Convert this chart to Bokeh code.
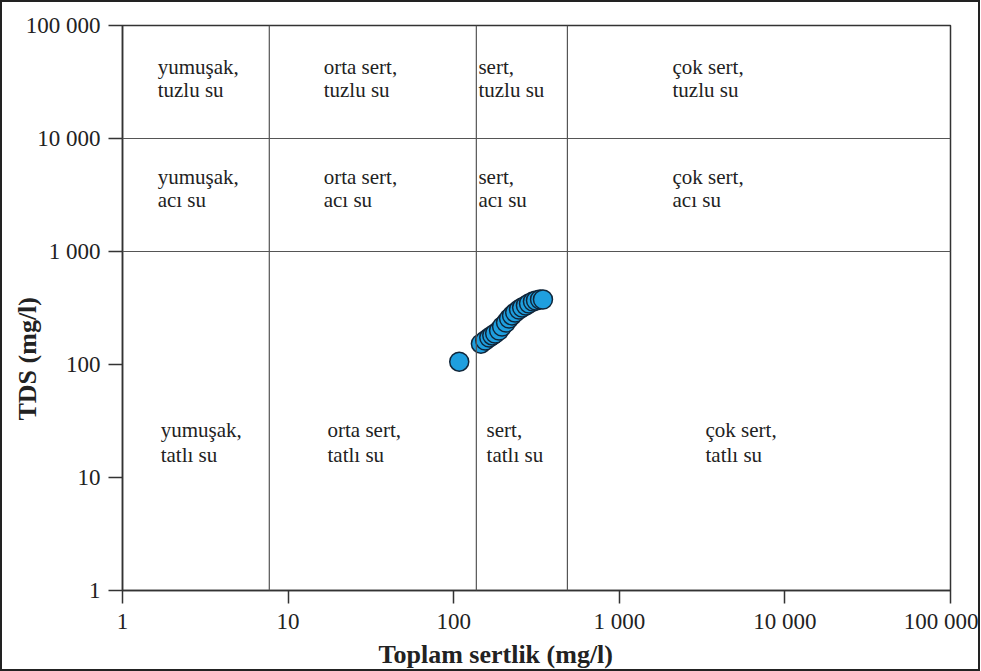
from bokeh.plotting import figure
from bokeh.models import FixedTicker, Span, Title, ColumnDataSource
from bokeh.embed import file_html
from bokeh.resources import INLINE
from bokeh.core.properties import value

# ---- data -------------------------------------------------------------
hardness = [108, 146, 155, 164, 171, 178, 188, 196, 207, 216, 225, 235,
            248, 259, 273, 285, 301, 314, 332, 346]
tds = [106, 153, 163, 173, 181, 188, 200, 217, 235, 255, 272, 288,
       307, 319, 333, 347, 361, 368, 376, 376]

tick_values = [1, 10, 100, 1000, 10000, 100000]
tick_labels = ["1", "10", "100", "1 000", "10 000", "100 000"]

hardness_bounds = [7.7, 137, 486]
tds_bounds = [1000, 10000]

hardness_classes = ["yumuşak,", "orta sert,", "sert,", "çok sert,"]
water_classes = ["tuzlu su", "acı su", "tatlı su"]

# label anchor positions (data units): column x per row, baselines per row
label_x_rows = [[1.63, 16.4, 141, 2096],
                [1.63, 16.4, 141, 2096],
                [1.70, 17.3, 158, 3315]]
label_y_rows = [(43300, 26600), (4600, 2830), (26.1, 15.7)]

x_title = "Toplam sertlik (mg/l)"
y_title = "TDS (mg/l)"

FONT = "Liberation Serif"
INK = "#222222"

p = figure(x_axis_type="log", y_axis_type="log",
           x_range=(1, 100000), y_range=(1, 100000),
           frame_width=828, frame_height=565,
           min_border_left=120, min_border_right=28,
           min_border_top=23, min_border_bottom=76,
           output_backend="svg", toolbar_location=None,
           background_fill_color="white", border_fill_color="white")
p.styles = {"border": "2px solid #222"}

p.grid.visible = False
p.outline_line_color = "#333333"
p.outline_line_width = 1.5

for ax in (p.xaxis[0], p.yaxis[0]):
    ax.ticker = FixedTicker(ticks=tick_values, minor_ticks=[])
    ax.major_label_overrides = {v: t for v, t in zip(tick_values, tick_labels)}
    ax.major_label_text_font = FONT
    ax.major_label_text_font_size = "23px"
    ax.major_label_text_color = INK
    ax.axis_line_color = "#333333"
    ax.axis_line_width = 1.5
    ax.major_tick_line_color = "#333333"
    ax.major_tick_line_width = 1.5
    ax.major_tick_in = 0
    ax.minor_tick_line_color = None
p.xaxis.major_tick_out = 13
p.yaxis.major_tick_out = 14
p.xaxis.major_label_standoff = 5
p.yaxis.major_label_standoff = 8

for xb in hardness_bounds:
    p.add_layout(Span(location=xb, dimension="height",
                      line_color="#555555", line_width=1.2))
for yb in tds_bounds:
    p.add_layout(Span(location=yb, dimension="width",
                      line_color="#555555", line_width=1.2))

# region labels
lx, ly, lt = [], [], []
for r, water in enumerate(water_classes):
    y1, y2 = label_y_rows[r]
    for c, hard in enumerate(hardness_classes):
        x = label_x_rows[r][c]
        lx += [x, x]
        ly += [y1, y2]
        lt += [hard, water]
p.text(x=lx, y=ly, text=lt, text_font=value(FONT), text_font_size="21px",
       text_color=INK, text_align="left", text_baseline="alphabetic")

src = ColumnDataSource(dict(x=hardness, y=tds))
p.scatter("x", "y", source=src, size=19, fill_color="#1f9fdf",
          line_color="#10263a", line_width=1.5)

xt = Title(text=x_title, align="left", offset=256, standoff=2,
           vertical_align="bottom", text_font=FONT, text_font_size="26px",
           text_font_style="bold", text_color=INK)
p.add_layout(xt, "below")
yt = Title(text=y_title, align="left", offset=170, standoff=-38,
           vertical_align="bottom", text_font=FONT, text_font_size="26px",
           text_font_style="bold", text_color=INK)
p.add_layout(yt, "left")

open("out.html", "w").write(file_html(p, INLINE))
